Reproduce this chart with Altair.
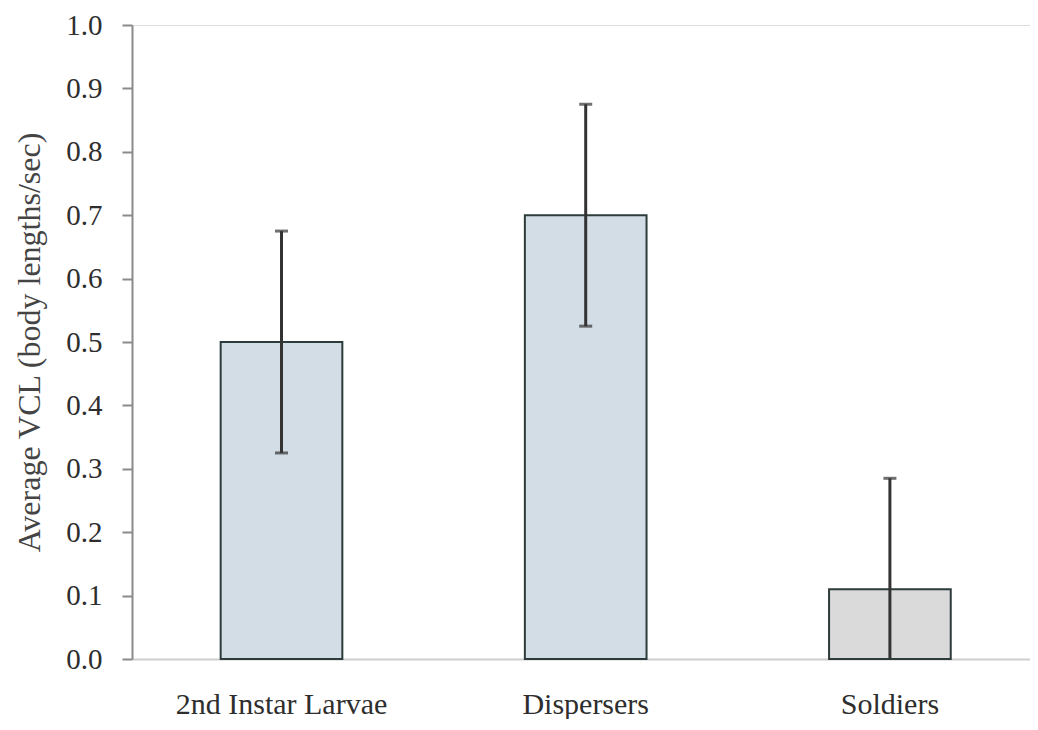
import altair as alt
import pandas as pd

categories = ["2nd Instar Larvae", "Dispersers", "Soldiers"]
means = [0.50, 0.70, 0.11]
err_low = [0.325, 0.525, 0.0]
err_high = [0.675, 0.875, 0.285]
fills = ["#d3dde6", "#d3dde6", "#dadada"]

df = pd.DataFrame({
    "group": categories,
    "mean": means,
    "low": err_low,
    "high": err_high,
    "fill": fills,
})

FONT = "Liberation Serif"

x_enc = alt.X(
    "group:N",
    sort=categories,
    scale=alt.Scale(paddingInner=0.6, paddingOuter=0.276, align=0.528),
    axis=alt.Axis(
        title=None,
        labelAngle=0,
        ticks=False,
        labelPadding=30,
        labelLimit=0,
        labelFont=FONT,
        labelFontSize=30,
        labelColor="#2e2e2e",
        domainColor="#cfcfcf",
        domainWidth=2,
    ),
)

y_scale = alt.Scale(domain=[0, 1], nice=False)

bars = alt.Chart(df).mark_bar(stroke="#2e3b3b", strokeWidth=2).encode(
    x=x_enc,
    y=alt.Y(
        "mean:Q",
        scale=y_scale,
        axis=alt.Axis(
            title="Average VCL (body lengths/sec)",
            values=[i / 10 for i in range(11)],
            format=".1f",
            grid=False,
            tickSize=10,
            tickWidth=2,
            tickColor="#8a8a8a",
            domainColor="#8a8a8a",
            domainWidth=2,
            labelPadding=20,
            labelFont=FONT,
            labelFontSize=29,
            labelColor="#2e2e2e",
            titleFont=FONT,
            titleFontSize=32,
            titleFontWeight="normal",
            titleColor="#444444",
            titlePadding=19,
        ),
    ),
    fill=alt.Fill("fill:N", scale=None),
)

whisker = alt.Chart(df).mark_rule(color="#333333", strokeWidth=3).encode(
    x=alt.X("group:N", sort=categories),
    y=alt.Y("low:Q", scale=y_scale),
    y2="high:Q",
)

cap_top = alt.Chart(df).mark_tick(color="#333333", thickness=3, size=13, orient="horizontal").encode(
    x=alt.X("group:N", sort=categories),
    y=alt.Y("high:Q", scale=y_scale),
)

cap_low = alt.Chart(df).transform_filter("datum.low > 0").mark_tick(
    color="#333333", thickness=3, size=13, orient="horizontal"
).encode(
    x=alt.X("group:N", sort=categories),
    y=alt.Y("low:Q", scale=y_scale),
)

chart = (
    alt.layer(bars, whisker, cap_top, cap_low)
    .properties(
        width=898,
        height=634,
        autosize=alt.AutoSizeParams(type="none"),
        padding={"left": 124, "top": 17, "right": 0, "bottom": 60},
    )
    .configure_view(stroke=None)
    .configure(background="white")
)

chart.save("out.html", embed_options={"renderer": "svg", "actions": False})
